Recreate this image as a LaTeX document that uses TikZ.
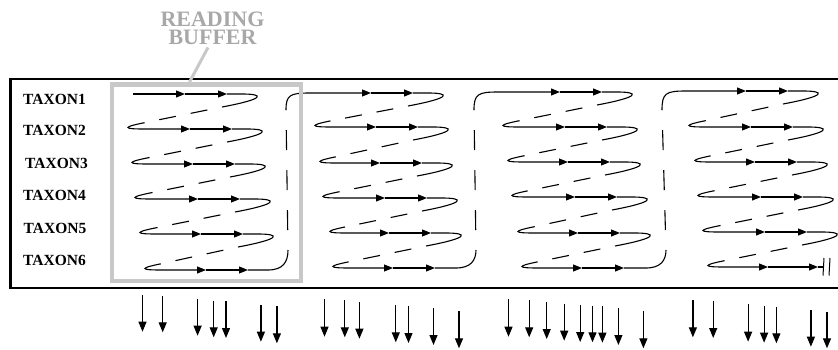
\documentclass[tikz,border=0pt]{standalone}
\usepackage{fontspec}
\setmainfont{Liberation Serif}
\usetikzlibrary{arrows.meta}
\definecolor{bufgray}{RGB}{200,200,200}
\definecolor{txtgray}{RGB}{168,168,168}
\tikzset{
  rowline/.style={line width=1.1pt},
  dashline/.style={line width=1.1pt, dash pattern=on 17pt off 15pt, dash phase=17pt},
  vdash/.style={line width=1.1pt, dash pattern=on 20pt off 20pt, dash phase=20pt},
  tri/.style={-{Triangle[length=9pt,width=7pt]}},
  downarrow/.style={line width=1.2pt, -{Triangle[length=10pt,width=8pt]}},
  taxon/.style={anchor=base west, inner sep=0pt, font=\fontsize{15.5}{15.5}\selectfont\bfseries},
  buftext/.style={anchor=north, inner sep=0pt, align=center, text=txtgray, font=\fontsize{22}{18}\selectfont\bfseries},
}
% left hairpin + first arrowed stretch; #1 L, #2 y, #3 R
\newcommand\zzbody[3]{%
  \draw[rowline,tri] ({#1+15},{#2-6}) .. controls ({#1-5},{#2-2}) and ({#1-5},#2) .. ({#1+15},#2) -- ({#3-72},#2);
  \draw[rowline,tri] ({#3-72},#2) -- ({#3-30},#2);
}
% right hairpin + dashed diagonal; #1 R, #2 y, #3 next L, #4 next y
\newcommand\zzturn[4]{%
  \draw[rowline] ({#1-30},#2) -- ({#1-15},#2) .. controls ({#1+8},#2) and ({#1+8},{#2+5}) .. ({#1-35},{#2+13});
  \draw[dashline] ({#1-35},{#2+13}) -- ({#3+15},{#4-6});
}
% first row starting from a connector top curve; #1 xv, #2 y, #3 R
\newcommand\zzfirst[3]{%
  \draw[rowline,tri] (#1,110) .. controls (#1,{#2+2}) and ({#1+4},#2) .. ({#1+24},#2) -- ({#3-72},#2);
  \draw[rowline,tri] ({#3-72},#2) -- ({#3-30},#2);
}
% last row ending in a connector; #1 R, #2 y, #3 xv bottom, #4 xv top
\newcommand\zzlast[4]{%
  \draw[rowline] ({#1-30},#2) -- ({#3-20},#2) .. controls ({#3-5},#2) and (#3,{#2-8}) .. (#3,250);
  \draw[vdash] (#3,250) -- (#4,110);
}
\begin{document}
\begin{tikzpicture}[x=1pt,y=-1pt]
\useasboundingbox (0,0) rectangle (838,350);
\clip (0,0) rectangle (838,350);
\fill[white] (0,0) rectangle (838,350);

% outer frame
\draw[line width=2.2pt] (850,79) -- (10.5,79) -- (10.5,288.3) -- (850,288.3);

% labels
\node[taxon] (t1) at (23,104.5) {TAXON1};
\node[taxon] (t2) at (23,136) {TAXON2};
\node[taxon] (t3) at (25,168.5) {TAXON3};
\node[taxon] (t4) at (23,200) {TAXON4};
\node[taxon] (t5) at (23.5,233.5) {TAXON5};
\node[taxon] (t6) at (23,265) {TAXON6};

% ---- block 1
\draw[rowline,tri] (133,94) -- (185,94);
\draw[rowline,tri] (185,94) -- (227,94);
\zzturn{257}{94}{128}{129}
\zzbody{128}{129}{262}
\zzturn{262}{129}{132}{164}
\zzbody{132}{164}{265}
\zzturn{265}{164}{135}{199}
\zzbody{135}{199}{270}
\zzturn{270}{199}{140}{234}
\zzbody{140}{234}{273}
\zzturn{273}{234}{145}{270}
\zzbody{145}{270}{278}
\zzlast{278}{270}{288}{286}

% ---- block 2
\zzfirst{286}{93}{443}
\zzturn{443}{93}{315}{127}
\zzbody{315}{127}{448}
\zzturn{448}{127}{320}{163}
\zzbody{320}{163}{452}
\zzturn{452}{163}{323}{198}
\zzbody{323}{198}{457}
\zzturn{457}{198}{330}{233}
\zzbody{330}{233}{461}
\zzturn{461}{233}{333}{268}
\zzbody{333}{268}{465}
\zzlast{465}{268}{476}{474}

% ---- block 3
\zzfirst{474}{92}{632}
\zzturn{632}{92}{503}{127}
\zzbody{503}{127}{637}
\zzturn{637}{127}{508}{162}
\zzbody{508}{162}{640}
\zzturn{640}{162}{512}{197}
\zzbody{512}{197}{647}
\zzturn{647}{197}{518}{233}
\zzbody{518}{233}{650}
\zzturn{650}{233}{522}{268}
\zzbody{522}{268}{654}
\zzlast{654}{268}{666}{662}

% ---- block 4
\zzfirst{662}{91}{818}
\zzturn{818}{91}{689}{127}
\zzbody{689}{127}{823}
\zzturn{823}{127}{695}{162}
\zzbody{695}{162}{827}
\zzturn{827}{162}{698}{197}
\zzbody{698}{197}{833}
\zzturn{833}{197}{703}{232}
\zzbody{703}{232}{837}
\zzturn{837}{232}{708}{267}
\draw[rowline,tri] (723,261) .. controls (703,265) and (703,267) .. (723,267) -- (768,267);
\draw[rowline,tri] (768,267) -- (818,267);
\draw[rowline] (818,267) -- (823,267);
\draw[line width=1pt] (824,258) -- (823,275.5);
\draw[line width=1pt] (830,258) -- (829,275.5);

% reading buffer
\draw[bufgray, line width=4.8pt] (112,84.5) rectangle (301,281);
\node[buftext] (bt) at (212.5,11.5) {READING\\BUFFER};
\coordinate (lt) at (208,47.5);
\coordinate (lb) at (189.5,82);
\draw[bufgray, line width=3pt] (lt) -- (lb);

% bottom arrows
\foreach \x/\a/\b in {
 142.5/295/331.7, 162.7/295.7/332.3, 197.6/299/335.7, 213.7/300.7/337.3, 226/301.3/338,
 260.9/305/341.7, 276.9/306/343.3, 324.5/299.3/336.7, 344.8/300.3/337.3, 359.4/302/338.7,
 395.8/305.3/342.3, 408.5/306/343, 433.5/307.7/345, 459/311/348.3, 508.5/299.3/336.7,
 529.2/300.3/337.3, 546.7/302/339, 564.2/303.7/340.7, 580.2/305/342, 592.5/306/342.3,
 602.4/306/342.7, 618.4/308/345, 643.4/311/348.3, 692.9/300.3/337.3, 713.2/301/338,
 748.1/304.3/341.7, 764.1/306/342.7, 776.4/306.7/343.3, 810.9/310/346.7, 827/312/348.3}
 \draw[downarrow] (\x,\a) -- (\x,\b);
\end{tikzpicture}
\end{document}
